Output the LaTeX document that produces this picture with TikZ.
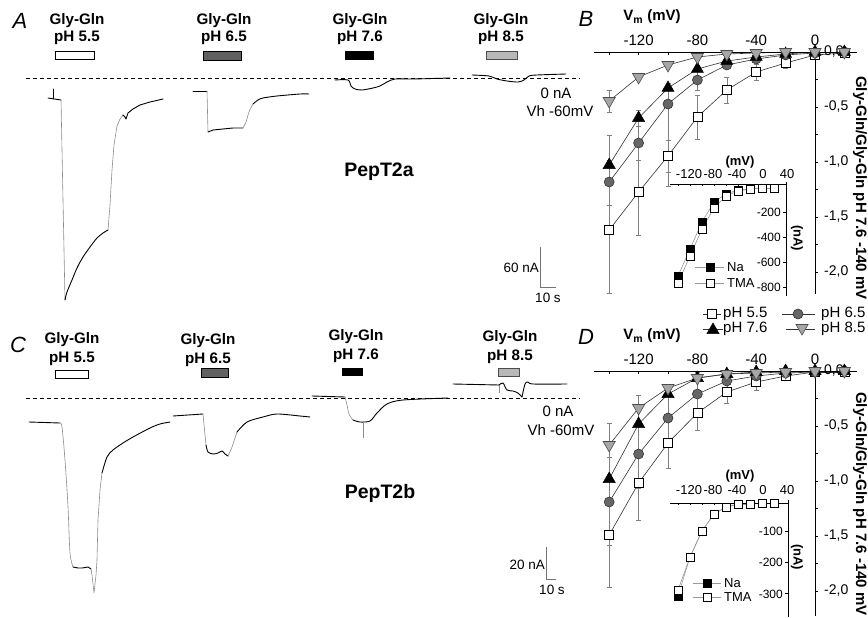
\documentclass[tikz,border=0pt]{standalone}
\usepackage{fontspec}
\setmainfont{Liberation Sans}
\usetikzlibrary{shapes.geometric,backgrounds}
\newcommand\myebar[3]{\draw[ebar] (#1,#2) -- (#1,#3) (#1-2.5,#2) -- (#1+2.5,#2) (#1-2.5,#3) -- (#1+2.5,#3);}
\tikzset{
  panel/.style={font=\fontsize{22}{22}\selectfont\itshape, inner sep=0pt},
  stimA/.style={font=\fontsize{15.2}{17}\selectfont\bfseries, align=center, inner sep=0pt},
  stimC/.style={font=\fontsize{15.2}{19}\selectfont\bfseries, align=center, inner sep=0pt},
  cell/.style={font=\fontsize{19.5}{19.5}\selectfont\bfseries, inner sep=0pt},
  note/.style={font=\fontsize{15}{15}\selectfont, inner sep=0pt},
  scl/.style={font=\fontsize{13.5}{13.5}\selectfont, inner sep=0pt},
  tick/.style={font=\fontsize{15}{15}\selectfont, inner sep=0pt},
  ytick/.style={font=\fontsize{14}{14}\selectfont, inner sep=0pt, anchor=west},
  itick/.style={font=\fontsize{13}{13}\selectfont, inner sep=0pt},
  iytick/.style={font=\fontsize{12}{12}\selectfont, inner sep=0pt, anchor=east},
  ititle/.style={font=\fontsize{13}{13}\selectfont\bfseries, inner sep=0pt},
  atitle/.style={font=\fontsize{15}{15}\selectfont\bfseries, inner sep=0pt},
  leg/.style={font=\fontsize{15}{15}\selectfont, inner sep=0pt, anchor=west},
  ileg/.style={font=\fontsize{13}{13}\selectfont, inner sep=0pt, anchor=west},
  sbar/.style={black!55, line width=0.8pt},
  trace/.style={black, line width=0.9pt, line join=round, line cap=round},
  fast/.style={black!45, line width=0.6pt, line join=round},
  zeroline/.style={line width=0.9pt, dash pattern=on 3.5pt off 3.5pt},
  bx/.style={draw=black, line width=0.6pt, inner sep=0pt},
  axis/.style={black, line width=0.8pt},
  ebar/.style={black!50, line width=0.6pt},
  serline/.style={black!80, line width=0.6pt},
  iline/.style={black!40, line width=0.6pt},
  msq/.style={rectangle, draw=black, fill=white, minimum size=9pt, inner sep=0pt, line width=0.6pt},
  mci/.style={circle, draw=black!80, fill=black!60, minimum size=10pt, inner sep=0pt, line width=0.6pt},
  mtri/.style={regular polygon, regular polygon sides=3, draw=black, fill=black, minimum size=14pt, inner sep=0pt, line width=0.5pt},
  minv/.style={regular polygon, regular polygon sides=3, shape border rotate=180, draw=black!70, fill=black!35, minimum size=14pt, inner sep=0pt, line width=0.6pt},
  isq/.style={rectangle, draw=black, fill=white, minimum size=7.5pt, inner sep=0pt, line width=0.5pt},
  isqna/.style={isq, fill=black},
}
\begin{document}
\begin{tikzpicture}[x=1pt,y=-1pt]
\useasboundingbox (0,0) rectangle (868,618);

% ================= Panel A =================
\node[panel] (lA) at (20,21) {A};
\node[stimA] (sA1) at (77,29.5) {Gly-Gln\\pH 5.5};
\node[stimA] (sA2) at (224,29.5) {Gly-Gln\\pH 6.5};
\node[stimA] (sA3) at (360,29.5) {Gly-Gln\\pH 7.6};
\node[stimA] (sA4) at (501,29.5) {Gly-Gln\\pH 8.5};
\node[bx, fill=white, minimum width=39pt, minimum height=8pt] (bA1) at (74.5,55) {};
\node[bx, fill=black!62, minimum width=38pt, minimum height=9pt] (bA2) at (222,55.5) {};
\node[bx, fill=black, minimum width=28pt, minimum height=8pt] (bA3) at (359,55) {};
\node[bx, fill=black!28, draw=black!70, minimum width=31pt, minimum height=8pt] (bA4) at (501.5,55) {};
\draw[zeroline] (26,78) -- (580,78);
% traces A
\draw[trace] (48,98) -- (61,100);
\draw[trace] (53,89) -- (53,99);
\draw[fast] (61,100) -- (65,300);
\draw[trace] plot[smooth] coordinates {(65,300) (67,292) (72,280) (77,268) (83,257) (90,247) (97,238) (103,233) (108,230)};
\draw[fast] plot coordinates {(108,230) (110,205) (112,170) (114,145) (117,126) (120,119) (123,115)};
\draw[trace] plot coordinates {(123,115) (125,117) (126,119) (128,113) (133,109) (140,105) (150,102) (163,99)};
\draw[trace] (193,91) -- (207,91);
\draw[fast] (207,91) -- (208,132);
\draw[trace] plot coordinates {(208,132) (213,130) (223,129) (233,128) (243,128)};
\draw[fast] plot[smooth] coordinates {(243,128) (246,122) (249,112) (253,104)};
\draw[trace] plot[smooth] coordinates {(253,104) (258,100) (263,98) (277,96) (300,94) (309,94)};
\draw[trace] plot[smooth] coordinates {(335,80) (348,80) (351,86) (355,89) (362,90) (373,88) (380,86) (387,82) (395,79) (413,79) (450,78)};
\draw[trace] plot[smooth] coordinates {(472,75) (489,76) (497,79) (507,81) (518,82) (524,80) (529,76) (537,75) (566,74)};
\node[note] (zA) at (556,93) {0 nA};
\node[note] (vA) at (560,111) {Vh -60mV};
\node[cell] (pA) at (379,172) {PepT2a};
\coordinate (sbA0) at (540,247);
\coordinate (sbA1) at (540,287);
\coordinate (sbA2) at (556,287);
\draw[sbar] (sbA0) -- (sbA1) -- (sbA2);
\node[scl, anchor=east] (sbAy) at (539,268) {60 nA};
\node[scl] (sbAx) at (548,298) {10 s};

% ================= Panel C =================
\node[panel] (lC) at (18,345) {C};
\node[stimC] (sC1) at (72,349.5) {Gly-Gln\\pH 5.5};
\node[stimC] (sC2) at (208,350) {Gly-Gln\\pH 6.5};
\node[stimC] (sC3) at (356,346) {Gly-Gln\\pH 7.6};
\node[stimC] (sC4) at (510,347.5) {Gly-Gln\\pH 8.5};
\node[bx, fill=white, minimum width=33pt, minimum height=8pt] (bC1) at (71.5,374) {};
\node[bx, fill=black!62, minimum width=27pt, minimum height=9pt] (bC2) at (214.5,372.5) {};
\node[bx, fill=black, minimum width=20pt, minimum height=7pt] (bC3) at (352,371.5) {};
\node[bx, fill=black!28, draw=black!70, minimum width=21pt, minimum height=8pt] (bC4) at (508.5,372) {};
\draw[zeroline] (26,398) -- (580,398);
\draw[trace] (29,422) -- (60,423);
\draw[fast] plot[smooth] coordinates {(60,423) (62,427) (65,460) (68,507) (70,553) (73,567)};
\draw[trace] plot coordinates {(73,567) (78,568) (82,568) (88,567) (91,569)};
\draw[fast] plot coordinates {(91,569) (92,575) (94,593) (96,575) (97,560) (98,520) (100,490) (102,473)};
\draw[trace] plot[smooth] coordinates {(102,473) (107,457) (113,450) (123,443) (133,437) (150,428) (160,424) (170,422)};
\draw[trace] (173,416) -- (203,414);
\draw[fast] (203,414) -- (206,445);
\draw[trace] plot[smooth] coordinates {(206,445) (208,452) (213,454) (218,453) (222,451) (225,454) (228,456)};
\draw[fast] plot[smooth] coordinates {(228,456) (232,447) (237,432)};
\draw[trace] plot[smooth] coordinates {(237,432) (247,422) (263,417) (277,414) (300,416) (310,417)};
\draw[trace] (312,396) -- (345,397);
\draw[fast] plot[smooth] coordinates {(345,397) (347,405) (349,414) (353,420)};
\draw[trace] plot[smooth] coordinates {(353,420) (360,422) (370,421) (377,413) (387,404) (403,400) (448,398)};
\draw[fast] (363,421) -- (363,438);
\draw[trace] (453,384) -- (499,385);
\draw[fast] (499,385) -- (499,393);
\draw[trace] plot[smooth] coordinates {(499,385) (503,383) (507,390) (513,391) (518,393) (522,397)};
\draw[trace] plot[smooth] coordinates {(522,397) (525,384) (528,382) (533,384) (567,384)};
\node[note] (zC) at (558,411) {0 nA};
\node[note] (vC) at (561,430) {Vh -60mV};
\node[cell] (pC) at (380,493) {PepT2b};
\coordinate (sbC0) at (546,547);
\coordinate (sbC1) at (546,579);
\coordinate (sbC2) at (556,579);
\draw[sbar] (sbC0) -- (sbC1) -- (sbC2);
\node[scl, anchor=east] (sbCy) at (545,565) {20 nA};
\node[scl] (sbCx) at (552,590) {10 s};

% ================= Panel B =================
\node[panel] (lB) at (586,19) {B};
\node[atitle] (vmB) at (652,17) {V\textsubscript{m} (mV)};
\draw[axis] (594,52) -- (857,52);
\draw[axis] (815,52) -- (815,294);
\foreach \x in {609.2,638.6,668,697.4,726.8,756.2,785.6,844.4} \draw[axis] (\x,52) -- (\x,55);
\foreach \y in {79.5,107,134.5,162,189.5,217,244.5,272} \draw[axis] (815,\y) -- (818,\y);
\node[tick] (bt1) at (638.6,40) {-120};
\node[tick] (bt2) at (697.4,40) {-80};
\node[tick] (bt3) at (756.2,40) {-40};
\node[tick] (bt4) at (815,40) {0};
\node[ytick] (by0) at (824,52) {0,0};
\node[ytick] (by1) at (824,107) {-0,5};
\node[ytick] (by2) at (824,162) {-1,0};
\node[ytick] (by3) at (824,217) {-1,5};
\node[ytick] (by4) at (824,272) {-2,0};
\node[atitle, rotate=-90] (byt) at (860,188) {Gly-Gln/Gly-Gln pH 7.6 -140 mV};
\foreach \x/\y [count=\i] in {609.2/230,638.6/192,668/156,697.4/117,726.8/90,756.2/72,785.6/63,815/55,844.4/53} \node[msq] (Bsq\i) at (\x,\y) {};
\foreach \x/\y [count=\i] in {609.2/182,638.6/143,668/104,697.4/80,726.8/65,756.2/59,785.6/55,815/53,844.4/52} \node[mci] (Bci\i) at (\x,\y) {};
\foreach \x/\y [count=\i] in {609.2/165,638.6/118,668/88,697.4/69,726.8/61,756.2/57,785.6/54,815/52,844.4/52} \node[mtri] (Btr\i) at (\x,\y) {};
\foreach \x/\y [count=\i] in {609.2/101,638.6/77,668/65,697.4/57,726.8/54,756.2/53,785.6/52,815/52,844.4/52} \node[minv] (Bin\i) at (\x,\y) {};

% inset B
\draw[axis] (670,184) -- (786,184);
\draw[axis] (786,182) -- (786,296);
\foreach \x in {678,690,702,714,726,738,750,762,774} \draw[axis] (\x,184) -- (\x,186);
\foreach \y in {212,237,262,287} \draw[axis] (786,\y) -- (783,\y);
\node[itick] (bi1) at (689,174) {-120};
\node[itick] (bi2) at (713,174) {-80};
\node[itick] (bi3) at (737,174) {-40};
\node[itick] (bi4) at (763,174) {0};
\node[itick] (bi5) at (787,174) {40};
\node[ititle] (bimv) at (740,162) {(mV)};
\node[iytick] (biy1) at (781,212) {-200};
\node[iytick] (biy2) at (781,237) {-400};
\node[iytick] (biy3) at (781,262) {-600};
\node[iytick] (biy4) at (781,287) {-800};
\node[ititle, rotate=-90] (bina) at (797,238) {(nA)};
\foreach \x/\y [count=\i] in {678/276,690/249,702/222,714/202,726/194,738/190,750/189,762/188,774/188} \node[isqna] (bNa\i) at (\x,\y) {};
\foreach \x/\y [count=\i] in {678/283,690/256,702/229,714/208,726/196,738/191,750/189,762/188,774/188} \node[isq] (bTM\i) at (\x,\y) {};
\coordinate (blg1a) at (695,267); \coordinate (blg1b) at (724,267);
\coordinate (blg2a) at (695,283); \coordinate (blg2b) at (724,283);
\node[isqna] (blgNa) at (710,267) {};
\node[isq] (blgTM) at (710,283) {};
\node[ileg] (blgt1) at (727,267) {Na};
\node[ileg] (blgt2) at (727,283) {TMA};

% ================= Legend =================
\coordinate (lg1a) at (703,314); \coordinate (lg1b) at (721,314);
\coordinate (lg2a) at (782,314); \coordinate (lg2b) at (815,314);
\coordinate (lg3a) at (703,329); \coordinate (lg3b) at (723,329);
\coordinate (lg4a) at (786,329); \coordinate (lg4b) at (815,329);
\draw[serline] (lg1a) -- (lg1b) (lg2a) -- (lg2b) (lg3a) -- (lg3b) (lg4a) -- (lg4b);
\node[msq] (lgm1) at (712,314) {};
\node[mci] (lgm2) at (798,314) {};
\node[mtri] (lgm3) at (713,330) {};
\node[minv] (lgm4) at (802,328) {};
\node[leg] (lgt1) at (723,314) {pH 5.5};
\node[leg] (lgt2) at (821,314) {pH 6.5};
\node[leg] (lgt3) at (723,329) {pH 7.6};
\node[leg] (lgt4) at (821,329) {pH 8.5};

% ================= Panel D =================
\node[panel] (lD) at (586,337) {D};
\node[atitle] (vmD) at (652,336) {V\textsubscript{m} (mV)};
\draw[axis] (594,371) -- (857,371);
\draw[axis] (815,371) -- (815,616);
\foreach \x in {609.2,638.6,668,697.4,726.8,756.2,785.6,844.4} \draw[axis] (\x,371) -- (\x,374);
\foreach \y in {398.5,426,453.5,481,508.5,536,563.5,591} \draw[axis] (815,\y) -- (818,\y);
\node[tick] (dt1) at (638.6,359) {-120};
\node[tick] (dt2) at (697.4,359) {-80};
\node[tick] (dt3) at (756.2,359) {-40};
\node[tick] (dt4) at (815,359) {0};
\node[ytick] (dy0) at (824,371) {0,0};
\node[ytick] (dy1) at (824,426) {-0,5};
\node[ytick] (dy2) at (824,481) {-1,0};
\node[ytick] (dy3) at (824,536) {-1,5};
\node[ytick] (dy4) at (824,591) {-2,0};
\node[atitle, rotate=-90] (dyt) at (860,504) {Gly-Gln/Gly-Gln pH 7.6 -140 mV};
\foreach \x/\y [count=\i] in {609.2/535,638.6/483,668/443,697.4/413,726.8/392,756.2/382,785.6/376,815/372,844.4/372} \node[msq] (Dsq\i) at (\x,\y) {};
\foreach \x/\y [count=\i] in {609.2/502,638.6/454,668/418,697.4/394,726.8/381,756.2/376,785.6/373,815/372,844.4/371} \node[mci] (Dci\i) at (\x,\y) {};
\foreach \x/\y [count=\i] in {609.2/479,638.6/424,668/394,697.4/378,726.8/374,756.2/372,785.6/371,815/371,844.4/371} \node[mtri] (Dtr\i) at (\x,\y) {};
\foreach \x/\y [count=\i] in {609.2/445,638.6/408,668/388,697.4/378,726.8/374,756.2/373,785.6/372,815/371,844.4/371} \node[minv] (Din\i) at (\x,\y) {};

% inset D
\draw[axis] (670,503) -- (788,503);
\draw[axis] (788,500) -- (788,617);
\foreach \x in {678,690,702,714,726,738,750,762,774} \draw[axis] (\x,503) -- (\x,505);
\foreach \y in {531,562,593} \draw[axis] (788,\y) -- (785,\y);
\node[itick] (di1) at (689,490) {-120};
\node[itick] (di2) at (713,490) {-80};
\node[itick] (di3) at (737,490) {-40};
\node[itick] (di4) at (763,490) {0};
\node[itick] (di5) at (787,490) {40};
\node[ititle] (dimv) at (740,476) {(mV)};
\node[iytick] (diy1) at (783,531) {-100};
\node[iytick] (diy2) at (783,562) {-200};
\node[iytick] (diy3) at (783,594) {-300};
\node[ititle, rotate=-90] (dina) at (797,557) {(nA)};
\foreach \x/\y [count=\i] in {678/596,690/557,702/531,714/514,726/507,738/504,750/504,762/503,774/503} \node[isqna] (dNa\i) at (\x,\y) {};
\foreach \x/\y [count=\i] in {678/590,690/557,702/531,714/514,726/507,738/504,750/504,762/503,774/503} \node[isq] (dTM\i) at (\x,\y) {};
\coordinate (dlg1a) at (693,583); \coordinate (dlg1b) at (721,583);
\coordinate (dlg2a) at (693,597); \coordinate (dlg2b) at (721,597);
\node[isqna] (dlgNa) at (707,583) {};
\node[isq] (dlgTM) at (707,597) {};
\node[ileg] (dlgt1) at (724,583) {Na};
\node[ileg] (dlgt2) at (724,597) {TMA};

% ================= background: error bars and series lines =================
\begin{pgfonlayer}{background}
\myebar{609.2}{135}{293}
\myebar{609.2}{90}{112}
\myebar{609.2}{160}{205}
\myebar{638.6}{110}{235}
\myebar{638.6}{126}{160}
\myebar{668}{83}{186}
\myebar{668}{140}{172}
\myebar{697.4}{95}{139}
\myebar{697.4}{70}{90}
\myebar{726.8}{77}{103}
\myebar{756.2}{64}{80}
\myebar{785.6}{58}{68}
\myebar{609.2}{423}{587}
\myebar{609.2}{457}{545}
\myebar{638.6}{395}{520}
\myebar{638.6}{420}{488}
\myebar{668}{385}{468}
\myebar{697.4}{372}{430}
\myebar{726.8}{372}{403}
\myebar{756.2}{375}{390}
\foreach \s in {Bsq,Bci,Btr,Bin,Dsq,Dci,Dtr,Din}{
  \foreach \i in {1,...,8}{
    \pgfmathtruncatemacro\j{\i+1}
    \draw[serline] (\s\i.center) -- (\s\j.center);
  }
}
\foreach \s in {bNa,bTM,dNa,dTM}{
  \foreach \i in {1,...,8}{
    \pgfmathtruncatemacro\j{\i+1}
    \draw[iline] (\s\i.center) -- (\s\j.center);
  }
}
\draw[iline] (blg1a) -- (blg1b) (blg2a) -- (blg2b) (dlg1a) -- (dlg1b) (dlg2a) -- (dlg2b);
\end{pgfonlayer}
\end{tikzpicture}
\end{document}
